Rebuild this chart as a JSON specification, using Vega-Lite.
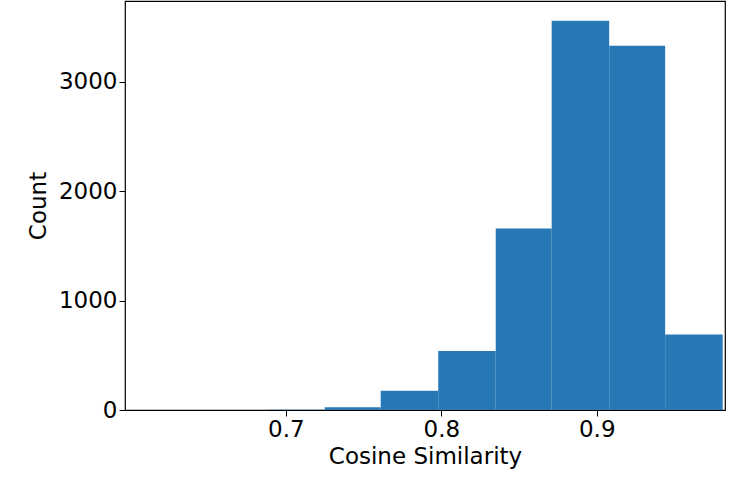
{
"$schema":"https://vega.github.io/schema/vega-lite/v6.json",
"width":600,"height":409,
"autosize":{"type":"none"},
"padding":{"left":125,"top":1,"right":29,"bottom":78},
"background":"white",
"config":{"view":{"stroke":"black","strokeWidth":1.2},
"axis":{"grid":false,"domain":false,"tickColor":"black","tickSize":6,"labelFont":"DejaVu Sans","labelFontSize":23,"labelColor":"black","titleFont":"DejaVu Sans","titleFontSize":23,"titleFontWeight":"normal","titleColor":"black"}},
"data":{"values":[
{"a":0.615,"b":0.652,"c":0},
{"a":0.652,"b":0.688,"c":1},
{"a":0.688,"b":0.725,"c":3},
{"a":0.725,"b":0.761,"c":25},
{"a":0.761,"b":0.798,"c":175},
{"a":0.798,"b":0.835,"c":540},
{"a":0.835,"b":0.871,"c":1660},
{"a":0.871,"b":0.908,"c":3560},
{"a":0.908,"b":0.944,"c":3330},
{"a":0.944,"b":0.981,"c":690}
]},
"mark":{"type":"rect","color":"#2878b5"},
"encoding":{
"x":{"field":"a","type":"quantitative","scale":{"domain":[0.5965,0.9825],"nice":false,"zero":false},"axis":{"values":[0.7,0.8,0.9],"format":".1f","title":"Cosine Similarity","titlePadding":4}},
"x2":{"field":"b"},
"y":{"field":"c","type":"quantitative","scale":{"domain":[0,3740],"nice":false},"axis":{"values":[0,1000,2000,3000],"format":"d","title":"Count","titlePadding":8}},
"y2":{"datum":0}
}
}
